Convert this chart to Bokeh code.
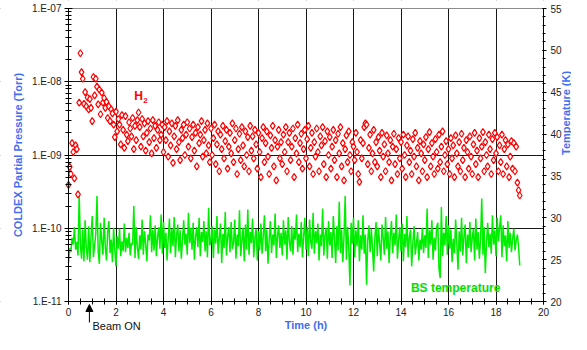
import math
from bokeh.plotting import figure
from bokeh.models import (Range1d, LinearAxis, LinearScale, FixedTicker,
                          CustomJSTickFormatter, Label, Arrow, NormalHead,
                          ColumnDataSource, BoxAnnotation)
from bokeh.embed import file_html
from bokeh.resources import INLINE

# ---------------- data ----------------
sample_step_h = 0.05  # sampling interval of both records (hours)

# H2 partial pressure, in units of 1e-9 Torr (one row = one hour)
h2_nTorr = [
    0.39, 0.69, 0.55, 1.45, 1.1, 0.48, 1.35, 1.2, 0.29, 5.2, 24.5, 13.5, 11.0, 5.0, 7.2, 4.6, 6.1, 4.2, 5.8, 4.4,
    2.9, 11.6, 6.5, 11.0, 8.6, 4.9, 7.8, 3.6, 7.1, 5.2, 6.0, 4.4, 5.3, 3.2, 4.6, 2.9, 4.2, 3.7, 2.6, 1.75,
    3.9, 2.1, 3.1, 2.6, 1.4, 3.5, 2.2, 1.25, 3.4, 1.9, 1.55, 2.8, 2.3, 1.8, 3.2, 1.2, 2.5, 1.6, 3.0, 3.8,
    2.4, 1.3, 3.1, 1.8, 2.7, 1.15, 2.0, 2.9, 1.5, 2.3, 1.05, 3.0, 1.7, 2.5, 1.25, 2.2, 2.8, 1.6, 1.9, 2.6,
    1.1, 2.4, 1.6, 2.9, 0.95, 2.1, 1.35, 2.7, 0.78, 1.8, 2.5, 1.2, 3.0, 1.5, 0.85, 2.2, 1.7, 2.6, 1.0, 1.9,
    2.8, 1.3, 2.3, 0.9, 1.75, 2.6, 1.15, 2.0, 0.7, 2.4, 1.45, 1.9, 2.9, 0.95, 1.6, 2.2, 1.05, 2.7, 1.35, 0.8,
    2.3, 1.0, 1.7, 2.6, 0.75, 1.4, 2.1, 0.6, 1.9, 1.2, 2.5, 0.9, 1.55, 2.2, 0.65, 1.3, 2.0, 1.05, 2.7, 0.8,
    1.6, 2.3, 0.55, 1.2, 1.95, 0.85, 2.4, 1.35, 0.7, 2.1, 1.0, 1.75, 0.6, 2.5, 1.15, 1.8, 0.9, 2.2, 1.4, 0.65,
    2.0, 1.1, 0.5, 1.7, 2.4, 0.8, 1.45, 2.1, 0.95, 0.55, 1.85, 1.25, 2.5, 0.7, 1.6, 0.45, 1.3, 2.2, 0.9, 1.5,
    0.75, 1.9, 1.1, 2.4, 0.6, 1.5, 2.0, 0.85, 1.3, 2.3, 0.5, 1.7, 1.05, 2.6, 0.8, 1.45, 1.95, 0.65, 1.2, 2.2,
    0.9, 1.65, 2.5, 0.7, 1.25, 2.0, 0.55, 1.5, 0.95, 2.3, 1.1, 0.6, 1.8, 1.35, 2.4, 0.75, 1.55, 0.5, 2.1, 1.0,
    1.75, 0.65, 1.3, 2.2, 0.85, 1.6, 0.5, 1.95, 1.05, 2.4, 0.7, 1.45, 0.45, 1.2, 1.85, 0.8, 2.1, 1.0, 0.6, 1.5,
    1.3, 0.85, 2.0, 1.1, 0.55, 0.43, 1.6, 0.9, 1.45, 2.4, 2.7, 2.6, 0.75, 1.25, 1.9, 0.6, 1.05, 2.2, 0.8, 1.5,
    0.7, 1.75, 1.15, 0.5, 2.0, 0.95, 1.4, 0.6, 1.85, 1.05, 0.8, 1.6, 0.45, 1.3, 1.95, 0.75, 1.2, 0.55, 1.7, 0.9,
    1.5, 0.65, 1.9, 1.0, 0.5, 1.35, 1.8, 0.8, 1.15, 0.55, 1.65, 0.95, 2.0, 0.7, 1.25, 0.45, 1.55, 1.05, 0.6, 1.4,
    0.85, 1.75, 0.5, 1.2, 2.05, 0.7, 1.45, 0.95, 0.55, 1.65, 1.1, 0.65, 1.9, 0.8, 1.3, 2.1, 0.6, 1.0, 1.55, 0.75,
    1.2, 0.55, 1.7, 0.9, 1.35, 0.5, 1.85, 1.05, 0.7, 1.5, 0.6, 1.95, 0.85, 1.25, 0.5, 1.6, 1.1, 0.65, 1.8, 0.95,
    0.55, 1.4, 2.0, 0.75, 1.15, 0.5, 1.7, 0.9, 1.3, 2.05, 0.6, 1.5, 1.0, 0.7, 1.9, 1.2, 0.55, 1.65, 0.85, 2.0,
    1.05, 1.75, 0.6, 1.35, 0.8, 1.9, 0.55, 1.2, 1.6, 0.7, 1.4, 0.5, 0.95, 1.55, 0.65, 1.45, 0.6, 1.3, 0.42, 0.33,
    0.28,
]

# beam-screen temperature (K), same sampling
bs_temp_K = [
    24.6, 26.4, 25.9, 27.6, 26.8, 28.9, 26.2, 27.1, 25.5, 32.9, 26.8, 25.1, 28.6, 24.8, 29.7, 26.4, 25.0, 29.0, 24.7, 27.9,
    30.2, 25.3, 26.7, 28.1, 32.6, 26.0, 24.5, 29.4, 27.2, 25.6, 30.0, 26.5, 24.9, 28.3, 29.6, 25.8, 27.4, 24.7, 28.8, 26.1,
    24.2, 27.8, 26.3, 28.7, 25.4, 27.2, 26.0, 29.3, 25.9, 27.6, 26.4, 28.2, 25.5, 27.0, 26.8, 31.4, 25.2, 28.9, 26.5, 25.1,
    27.9, 26.2, 29.8, 25.6, 28.4, 26.9, 24.8, 28.0, 27.3, 30.3, 25.9, 28.6, 26.1, 29.1, 25.4, 27.7, 28.9, 26.3, 30.4, 25.7,
    29.5, 26.4, 28.2, 24.9, 27.6, 29.9, 25.8, 28.7, 26.6, 30.1, 25.3, 27.9, 29.2, 26.0, 28.5, 25.1, 27.4, 29.7, 26.8, 28.1,
    25.6, 30.6, 27.0, 28.8, 26.2, 29.4, 25.0, 27.7, 28.9, 26.5, 30.0, 25.4, 28.3, 27.1, 29.6, 26.0, 28.4, 25.3, 31.2, 26.7,
    27.3, 29.0, 25.2, 28.6, 26.9, 30.2, 25.7, 27.5, 29.3, 24.6, 28.1, 26.4, 30.7, 25.5, 27.8, 28.9, 25.9, 29.5, 26.3, 27.0,
    29.8, 25.1, 28.0, 26.6, 30.9, 25.4, 27.3, 28.8, 24.8, 29.2, 26.2, 31.0, 25.6, 28.3, 27.0, 29.9, 25.3, 27.6, 28.7, 24.9,
    28.4, 26.1, 29.3, 25.7, 27.9, 30.3, 26.0, 28.6, 24.5, 27.4, 29.6, 25.8, 28.0, 26.7, 30.5, 25.2, 27.8, 29.1, 26.4, 28.2,
    25.5, 29.7, 26.8, 28.5, 25.0, 30.1, 27.2, 26.0, 29.0, 25.6, 28.7, 27.4, 30.4, 25.9, 28.1, 26.5, 29.5, 25.3, 27.7, 30.0,
    26.2, 28.9, 25.4, 29.8, 27.1, 26.3, 30.6, 25.7, 28.4, 27.0, 29.3, 24.9, 28.0, 26.6, 31.1, 25.5, 27.9, 28.8, 25.1, 29.6,
    26.7, 28.3, 25.2, 30.2, 27.5, 24.6, 29.0, 26.1, 31.9, 25.8, 28.6, 24.7, 27.8, 32.6, 25.0, 28.9, 26.4, 21.9, 29.4, 26.9,
    30.0, 25.3, 28.5, 26.6, 29.7, 24.8, 27.9, 26.2, 30.3, 25.7, 28.0, 22.0, 27.3, 29.1, 25.9, 28.7, 26.4, 23.6, 27.6, 29.5,
    25.4, 28.8, 26.9, 24.9, 29.2, 27.5, 25.6, 30.1, 26.3, 28.4, 24.6, 27.8, 29.6, 25.8, 28.2, 26.7, 30.4, 25.1, 27.4, 28.9,
    26.0, 29.3, 24.8, 28.1, 26.5, 30.2, 25.3, 27.7, 28.6, 24.2, 27.1, 29.0, 25.6, 26.9, 28.3, 24.9, 27.4, 26.2, 28.8, 25.8,
    27.9, 26.4, 31.1, 25.2, 28.5, 26.8, 29.7, 25.0, 27.6, 26.1, 28.9, 29.4, 23.9, 22.8, 31.3, 25.4, 28.2, 26.7, 30.2, 25.6,
    29.1, 26.3, 28.6, 24.7, 27.5, 25.8, 29.8, 26.9, 23.8, 28.4, 26.0, 30.0, 25.5, 27.8, 29.2, 24.6, 28.0, 26.4, 29.5, 25.9,
    27.6, 28.7, 24.9, 29.9, 26.2, 28.3, 25.1, 27.4, 32.3, 25.6, 28.9, 23.4, 27.0, 29.4, 26.5, 28.1, 25.7, 30.3, 26.8, 28.5,
    25.4, 30.0, 27.2, 28.8, 30.3, 25.3, 29.1, 26.6, 27.9, 24.8, 29.6, 26.4, 28.2, 25.9, 27.5, 28.7, 26.1, 27.3, 28.0, 26.5,
    24.3,
]

x_major_ticks = [0, 2, 4, 6, 8, 10, 12, 14, 16, 18, 20]
x_minor_ticks = [i * 0.5 for i in range(41)]
p_major_ticks = [1e-11, 1e-10, 1e-9, 1e-8, 1e-7]
p_minor_ticks = [m * d for d in [1e-11, 1e-10, 1e-9, 1e-8] for m in range(2, 10)]
t_major_ticks = [20, 25, 30, 35, 40, 45, 50, 55]
t_minor_ticks = list(range(20, 56))

x_lim = (0, 20)
p_lim = (1e-11, 1e-7)
t_lim = (20, 55)
beam_on_h = 0.88

h2_torr = [v * 1e-9 for v in h2_nTorr]
h2_time = [round(i * sample_step_h, 3) for i in range(len(h2_torr))]
temp_time = [round(i * sample_step_h, 3) for i in range(len(bs_temp_K))]

# ---------------- layout geometry (pixels) ----------------
W, H = 571, 334
LEFT_AXIS_PX = 68     # pixel column of the pressure axis
RIGHT_AXIS_PX = 543   # pixel column of the temperature axis
TOP_PX = 8            # pixel row of the top of the data area
X_AXIS_PX = 301       # pixel row of the time axis

px_per_h = (RIGHT_AXIS_PX - LEFT_AXIS_PX) / (x_lim[1] - x_lim[0])
px_per_dec = (X_AXIS_PX - TOP_PX) / (math.log10(p_lim[1]) - math.log10(p_lim[0]))
px_per_K = (X_AXIS_PX - TOP_PX) / (t_lim[1] - t_lim[0])

x_start = x_lim[0] - LEFT_AXIS_PX / px_per_h
x_end = x_lim[1] + (W - RIGHT_AXIS_PX) / px_per_h
y_lo = 10 ** (math.log10(p_lim[0]) - (H - X_AXIS_PX) / px_per_dec)
y_hi = 10 ** (math.log10(p_lim[1]) + TOP_PX / px_per_dec)
t_lo = t_lim[0] - (H - X_AXIS_PX) / px_per_K
t_hi = t_lim[1] + TOP_PX / px_per_K


def below_axis(px):
    """pressure value lying px pixels below the time axis"""
    return 10 ** (math.log10(p_lim[0]) - px / px_per_dec)


# ---------------- figure ----------------
FONT = "Liberation Sans"
BLUE = "#3f6ef2"

p = figure(width=W, height=H, y_axis_type="log",
           x_range=Range1d(x_start, x_end), y_range=Range1d(y_lo, y_hi),
           output_backend="svg", toolbar_location=None,
           min_border_left=0, min_border_right=0,
           min_border_top=0, min_border_bottom=0)
p.extra_y_ranges = {"temp": Range1d(t_lo, t_hi)}
p.extra_y_scales = {"temp": LinearScale()}

p.outline_line_color = None
p.background_fill_color = "white"
p.border_fill_color = "white"

# grids
p.xgrid.ticker = FixedTicker(ticks=x_major_ticks)
p.ygrid.ticker = FixedTicker(ticks=p_major_ticks)
for g in (p.xgrid, p.ygrid):
    g.grid_line_color = "black"
    g.grid_line_width = 1
    g.grid_line_alpha = 0.9

# white masks outside the data area (hide grid overhang)
for kw in (dict(top=p_lim[0]), dict(bottom=p_lim[1]),
           dict(left=x_lim[1]), dict(right=x_lim[0])):
    p.add_layout(BoxAnnotation(fill_color="white", fill_alpha=1.0,
                               line_alpha=0, level="underlay", **kw))

# x axis (time)
xa = p.xaxis[0]
xa.ticker = FixedTicker(ticks=x_major_ticks, minor_ticks=x_minor_ticks)
xa.axis_label = "Time (h)"
xa.fixed_location = p_lim[0]
xa.bounds = x_lim

# left axis (pressure)
ya = p.yaxis[0]
ya.ticker = FixedTicker(ticks=p_major_ticks, minor_ticks=p_minor_ticks)
ya.formatter = CustomJSTickFormatter(code="""
const e = Math.round(Math.log10(tick));
const a = Math.abs(e);
return '1.E' + (e < 0 ? '-' : '+') + (a < 10 ? '0' + a : '' + a);
""")
ya.axis_label = "COLDEX Partial Pressure (Torr)"
ya.fixed_location = x_lim[0]
ya.bounds = p_lim

# right axis (temperature)
ra = LinearAxis(y_range_name="temp",
                ticker=FixedTicker(ticks=t_major_ticks, minor_ticks=t_minor_ticks),
                axis_label="Temperature (K)")
ra.fixed_location = x_lim[1]
ra.bounds = t_lim
p.add_layout(ra, "right")
try:
    ra.axis_label_orientation = math.pi / 2
except Exception:
    pass

for ax in (xa, ya, ra):
    ax.axis_line_color = "black"
    ax.major_tick_line_color = "black"
    ax.minor_tick_line_color = "black"
    ax.major_label_text_font = FONT
    ax.major_label_text_font_size = "10px"
    ax.major_label_text_color = "#222222"
    ax.axis_label_text_font = FONT
    ax.axis_label_text_font_size = "11px"
    ax.axis_label_text_font_style = "bold"
    ax.axis_label_text_color = BLUE

xa.major_tick_in = 3
xa.major_tick_out = 3
xa.minor_tick_in = 3
xa.minor_tick_out = 3
xa.major_label_standoff = 3
xa.axis_label_standoff = 0

ya.major_tick_in = 4
ya.major_tick_out = 4
ya.minor_tick_in = 3
ya.minor_tick_out = 3
ya.major_label_standoff = 3
ya.axis_label_standoff = 5

ra.major_tick_in = 1
ra.major_tick_out = 3
ra.minor_tick_in = 1
ra.minor_tick_out = 2
ra.major_label_standoff = 4
ra.axis_label_standoff = 1

# ---------------- data glyphs ----------------
temp_src = ColumnDataSource(dict(t=temp_time, T=bs_temp_K))
p.line("t", "T", source=temp_src, y_range_name="temp",
       line_color="#00ee00", line_width=1.5)

h2_src = ColumnDataSource(dict(t=h2_time, P=h2_torr))
p.scatter("t", "P", source=h2_src, marker="diamond", size=7,
          line_color="#ff0000", fill_color="white", line_width=1.2)

# ---------------- annotations ----------------
p.add_layout(Label(x=2.95, y=6.37e-9, text="H", text_color="#ff0000",
                   text_font=FONT, text_font_size="12px", text_font_style="bold",
                   text_align="center", text_baseline="middle"))
p.add_layout(Label(x=3.24, y=5.6e-9, text="2", text_color="#ff0000",
                   text_font=FONT, text_font_size="8px", text_font_style="bold",
                   text_align="center", text_baseline="middle"))
p.add_layout(Label(x=16.3, y=21.66, y_range_name="temp", text="BS temperature",
                   text_color="#00e000", text_font=FONT, text_font_size="12px",
                   text_font_style="bold", text_align="center", text_baseline="middle"))
p.add_layout(Label(x=1.01, y=below_axis(24), text="Beam ON", text_color="#111111",
                   text_font=FONT, text_font_size="11px",
                   text_align="left", text_baseline="middle"))
p.add_layout(Arrow(x_start=beam_on_h, y_start=below_axis(21), x_end=beam_on_h, y_end=below_axis(3),
                   line_color="black", line_width=1,
                   end=NormalHead(size=7, fill_color="black", line_color="black")))

open("out.html", "w").write(file_html(p, INLINE))
